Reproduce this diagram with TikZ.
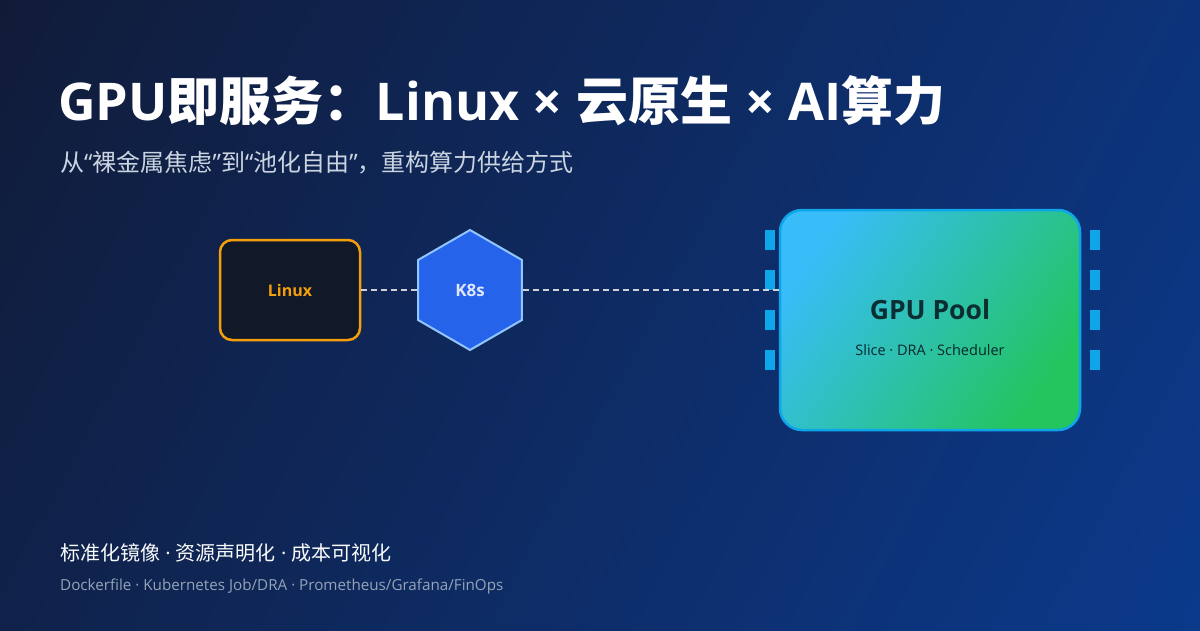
\documentclass[tikz,border=0pt]{standalone}
\usepackage{fontspec}
\setmainfont{Noto Sans CJK SC}
\newfontfamily\lat{Open Sans}
\usetikzlibrary{shapes.geometric}
\definecolor{bgA}{HTML}{111A35}
\definecolor{bgB}{HTML}{0B3B8F}
\definecolor{linuxfill}{HTML}{111827}
\definecolor{linuxorange}{HTML}{F59E0B}
\definecolor{kfill}{HTML}{2563EB}
\definecolor{kborder}{HTML}{93C5FD}
\definecolor{ktext}{HTML}{E0E7FF}
\definecolor{poolA}{HTML}{38BDF8}
\definecolor{poolB}{HTML}{22C55E}
\definecolor{pinblue}{HTML}{0EA5E9}
\definecolor{pooltext}{HTML}{0B2E33}
\definecolor{subtext}{HTML}{CBD5E1}
\definecolor{foottext}{HTML}{94A3B8}
\newcommand{\lx}[1]{{\lat #1}}
\begin{document}
\begin{tikzpicture}[x=1pt,y=-1pt,
  pinbox/.style={fill=pinblue,draw=none},
  link/.style={draw=white!80!bgA,line width=1.5pt,dash pattern=on 6pt off 4pt},
]
\useasboundingbox (0,0) rectangle (1200,630);
\shade[shading=axis,left color=bgA,right color=bgB,shading angle=62] (-200,-300) rectangle (1400,930);
% title
\node[anchor=base west,text=white,font=\fontsize{52}{60}\selectfont\bfseries,inner sep=0] (title) at (58,120) {\lx{GPU}即服务：\lx{Linux × }云原生\lx{ × AI}算力};
\node[anchor=base west,text=subtext,font=\fontsize{24}{28}\selectfont,inner sep=0] (sub) at (60,171) {从\lx{“}裸金属焦虑\lx{”}到\lx{“}池化自由\lx{”}，重构算力供给方式};
% Linux
\node[draw=linuxorange,line width=2.5pt,fill=linuxfill,rounded corners=12pt,minimum width=140pt,minimum height=100pt,text=linuxorange,font=\lat\fontsize{16}{18}\selectfont\bfseries] (linux) at (290,290) {Linux};
% K8s
\node[regular polygon,regular polygon sides=6,shape border rotate=30,minimum size=120pt,inner sep=0,draw=kborder,line width=2pt,fill=kfill,text=ktext,font=\lat\fontsize{17}{19}\selectfont\bfseries] (k8s) at (470,290) {K8s};
% pins
\foreach \yy in {230,270,310,350}{
  \fill[pinbox] (765,\yy) rectangle (775,\yy+20);
  \fill[pinbox] (1090,\yy) rectangle (1100,\yy+20);
}
% GPU pool
\shade[shading=axis,left color=poolA,right color=poolB,shading angle=55,rounded corners=22pt] (780,210) rectangle (1080,430);
\draw[draw=pinblue,line width=2.5pt,rounded corners=22pt] (780,210) rectangle (1080,430);
\coordinate (poolW) at (780,290);
\node[text=pooltext,font=\lat\fontsize{26.5}{30}\selectfont\bfseries] (pooltitle) at (930,310) {GPU Pool};
\node[text=pooltext!85!black,font=\lat\fontsize{14.5}{16}\selectfont] (poolsub) at (930,350) {Slice · DRA · Scheduler};
% links
\draw[link] (linux.east |- 0,290) -- (k8s.west |- 0,290);
\draw[link] (k8s.east |- 0,290) -- (poolW);
% footer
\node[anchor=base west,text=white!90!subtext,font=\fontsize{20}{24}\selectfont,inner sep=0] (foot1) at (60,560) {标准化镜像\lx{ · }资源声明化\lx{ · }成本可视化};
\node[anchor=base west,text=foottext,font=\lat\fontsize{15.2}{17}\selectfont,inner sep=0] (foot2) at (60,590) {Dockerfile · Kubernetes Job/DRA · Prometheus/Grafana/FinOps};
\end{tikzpicture}
\end{document}
